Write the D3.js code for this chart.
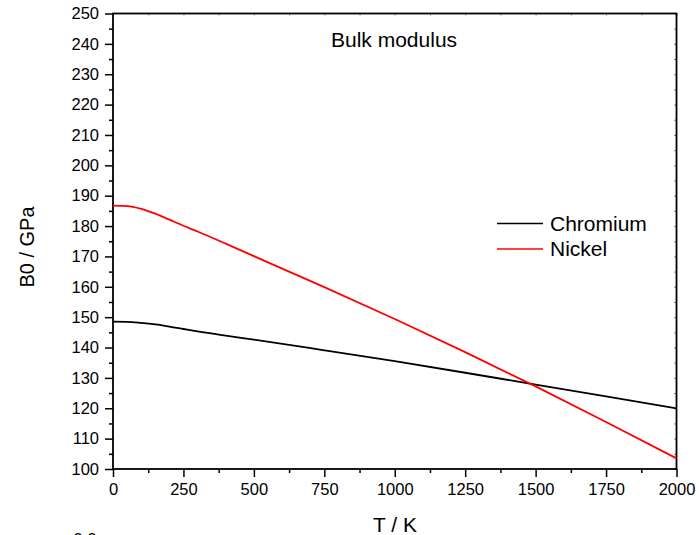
<!DOCTYPE html>
<html><head><meta charset="utf-8">
<script src="https://cdn.jsdelivr.net/npm/d3@7"></script>
<style>body{margin:0;background:#fff}svg{display:block}text{font-family:"Liberation Sans",Arial,sans-serif;fill:#000}</style>
</head><body>
<svg id="c" width="699" height="535"></svg>
<script>
const temps = [0, 50, 100, 150, 200, 250, 300, 400, 500, 750, 1000, 1250, 1500, 1750, 2000];
const chromium = [148.5, 148.45, 148.1, 147.6, 146.9, 146.1, 145.3, 143.9, 142.6, 139.1, 135.5, 131.7, 127.8, 123.9, 120.0];
const nickel = [186.7, 186.6, 185.7, 184.1, 182.1, 180.1, 178.2, 174.2, 170.1, 159.9, 149.4, 138.5, 127.2, 115.5, 103.5];
const seriesNames = ["Chromium", "Nickel"];
const seriesColors = ["#000000", "#ff0000"];
const xTicks = [0, 250, 500, 750, 1000, 1250, 1500, 1750, 2000];
const yTicks = [100, 110, 120, 130, 140, 150, 160, 170, 180, 190, 200, 210, 220, 230, 240, 250];

const svg = d3.select("#c");
const L = 113, R = 676.5, T = 13.5, B = 469;
const x = d3.scaleLinear().domain([0, 2000]).range([L, R]);
const y = d3.scaleLinear().domain([100, 250]).range([B, T]);

const xMinor = d3.range(125, 2000, 250);
const yMinor = d3.range(105, 250, 10);

const fs = "16.5px";
const gx = svg.append("g").attr("transform", `translate(0,${B})`)
  .call(d3.axisBottom(x).tickValues(xTicks).tickSize(8).tickPadding(6).tickFormat(d3.format("d")));
const gxm = svg.append("g").attr("transform", `translate(0,${B})`)
  .call(d3.axisBottom(x).tickValues(xMinor).tickSize(4).tickFormat(""));
const gy = svg.append("g").attr("transform", `translate(${L},0)`)
  .call(d3.axisLeft(y).tickValues(yTicks).tickSize(8).tickPadding(6).tickFormat(d3.format("d")));
const gym = svg.append("g").attr("transform", `translate(${L},0)`)
  .call(d3.axisLeft(y).tickValues(yMinor).tickSize(4).tickFormat(""));
const gt = svg.append("g").attr("transform", `translate(0,${T})`)
  .call(d3.axisBottom(x).tickValues(xTicks.concat(xMinor)).tickSize(2).tickFormat(""));
const gr = svg.append("g").attr("transform", `translate(${R},0)`)
  .call(d3.axisLeft(y).tickValues(yTicks.concat(yMinor)).tickSize(2).tickFormat(""));

[gx, gxm, gy, gym, gt, gr].forEach(g => {
  g.select(".domain").remove();
  g.selectAll("line").attr("stroke", "#000").attr("stroke-width", 1.5);
  g.selectAll("text").style("font-size", fs).style("font-family", '"Liberation Sans",Arial,sans-serif');
});
gt.selectAll("line").attr("stroke", "#888").attr("stroke-width", 1);
gr.selectAll("line").attr("stroke", "#444").attr("stroke-width", 1);

svg.append("rect").attr("x", L).attr("y", T).attr("width", R - L).attr("height", B - T)
  .attr("fill", "none").attr("stroke", "#000").attr("stroke-width", 1.8);

const line = d3.line().x((d, i) => x(temps[i])).y(d => y(d)).curve(d3.curveMonotoneX);
[chromium, nickel].forEach((s, k) => {
  svg.append("path").datum(s).attr("d", line).attr("fill", "none")
    .attr("stroke", seriesColors[k]).attr("stroke-width", 1.8);
});

seriesNames.forEach((n, k) => {
  const yy = 223.5 + k * 25.5;
  svg.append("line").attr("x1", 497).attr("x2", 543).attr("y1", yy).attr("y2", yy)
    .attr("stroke", seriesColors[k]).attr("stroke-width", 1.5);
  svg.append("text").attr("x", 550).attr("y", yy + 7).style("font-size", "21px").text(n);
});

svg.append("text").attr("x", 331).attr("y", 47).style("font-size", "21px").text("Bulk modulus");
svg.append("text").attr("x", 395).attr("y", 532).attr("text-anchor", "middle").style("font-size", "21px").text("T / K");
svg.append("text").attr("transform", "translate(33.5,247) rotate(-90)").attr("text-anchor", "middle").style("font-size", "20px").text("B0 / GPa");
svg.append("text").attr("x", 85).attr("y", 545).attr("text-anchor", "middle").style("font-size", "17px").text("0.0");
</script>
</body></html>
